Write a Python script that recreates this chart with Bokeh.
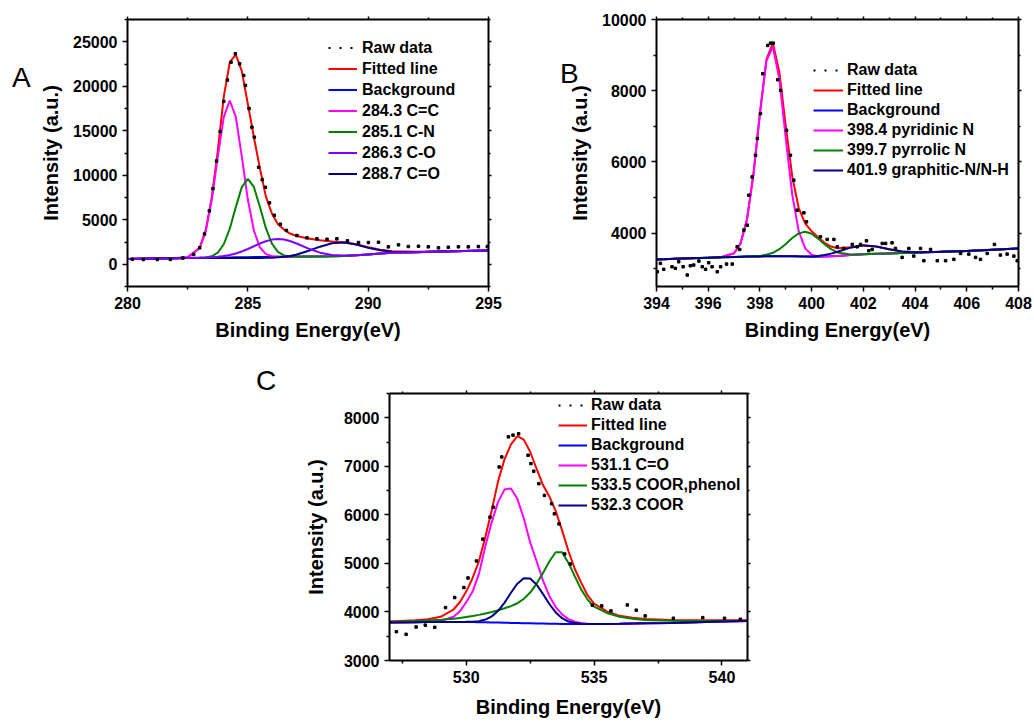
from bokeh.plotting import figure
from bokeh.models import (Range1d, FixedTicker, LinearAxis, Legend, LegendItem,
                          Div, Spacer, CustomJSTickFormatter)
from bokeh.layouts import column, row
from bokeh.embed import file_html
from bokeh.resources import INLINE

FONT = "Liberation Sans"
RED, BLUE, MAGENTA, GREEN, VIOLET, NAVY = "#ff0000", "#0000ff", "#ff00ff", "#008000", "#8000ff", "#000080"

# ---------------- Panel A : C 1s ----------------
xA = [280, 281, 282, 282.5, 283, 283.25, 283.5, 283.75, 284, 284.25, 284.5, 284.75, 285, 285.25,
      285.5, 285.75, 286, 286.25, 286.5, 286.75, 287, 287.5, 288, 288.5, 289, 289.5, 290, 290.5,
      291, 292, 293, 294, 295]
fitA = [600, 640, 690, 790, 1850, 3800, 7450, 12700, 18800, 22700, 23550, 21700, 18000, 14300,
        10800, 7600, 5700, 4500, 3900, 3450, 3200, 2900, 2700, 2560, 2480, 2250, 1900, 1620,
        1460, 1400, 1440, 1490, 1550]
bgA = [600, 640, 680, 700, 720, 730, 740, 750, 760, 770, 780, 790, 800, 810, 815, 820, 830, 835,
       840, 845, 850, 860, 870, 890, 930, 1000, 1100, 1200, 1280, 1360, 1420, 1480, 1550]
cc_A = [600, 640, 682, 776, 1813, 3709, 7210, 12051, 16539, 18400, 16559, 12091, 7270, 3789,
        1908, 1137, 906, 849, 840, 845, 850, 860, 870, 890, 930, 1000, 1100, 1200, 1280, 1360,
        1420, 1480, 1550]
cn_A = [600, 640, 680, 700, 727, 768, 898, 1296, 2247, 4000, 6421, 8666, 9600, 8686, 6456, 4050,
        2317, 1381, 998, 883, 857, 860, 870, 890, 930, 1000, 1100, 1200, 1280, 1360, 1420, 1480,
        1550]
co_A = [600, 640, 680, 702, 730, 752, 786, 838, 919, 1041, 1213, 1439, 1716, 2023, 2325, 2585,
        2768, 2835, 2778, 2610, 2360, 1776, 1303, 1049, 976, 1010, 1100, 1200, 1280, 1360, 1420,
        1480, 1550]
cdo_A = [600, 640, 680, 690, 700, 700, 700, 700, 700, 700, 702, 702, 702, 705, 710, 720, 740, 775,
         830, 920, 1074, 1484, 1974, 2365, 2455, 2214, 1864, 1564, 1415, 1367, 1420, 1480, 1550]
rawA_x = [280.2, 280.66, 281.24, 281.78, 282.3, 282.75, 283.0, 283.2, 283.4, 283.55, 283.7, 283.85,
          284.0, 284.15, 284.3, 284.48, 284.66, 284.83, 284.9, 285.05, 285.17, 285.27, 285.45,
          285.6, 285.73, 285.9, 286.1, 286.35, 286.6, 287.04, 287.46, 287.87, 288.29, 288.70,
          289.14, 289.60, 290.01, 290.43, 290.84, 291.26, 291.67, 292.09, 292.50, 292.92, 293.33,
          293.75, 294.16, 294.58, 294.95]
rawA_y = [560, 530, 530, 540, 700, 1100, 1850, 3400, 6000, 8500, 11600, 14900, 18300, 20700,
          22700, 23650, 22520, 21210, 20090, 17500, 15400, 14275, 10900, 9500, 8650, 6900, 5500,
          4500, 3800, 3225, 2965, 2855, 2810, 2855, 2630, 2440, 2440, 2470, 1955, 2180, 1990,
          2025, 1955, 1845, 1910, 1955, 1955, 1990, 1990]
labelsA = ["Raw data", "Fitted line", "Background", "284.3 C=C", "285.1 C-N", "286.3 C-O", "288.7 C=O"]

# ---------------- Panel B : N 1s ----------------
xB = [394, 395, 396, 396.5, 397, 397.25, 397.5, 397.75, 398, 398.25, 398.5, 398.75, 399, 399.25,
      399.5, 399.75, 400, 400.25, 400.5, 400.75, 401, 401.5, 402, 402.5, 403, 403.5, 404, 405,
      406, 407, 408]
fitB = [3260, 3285, 3310, 3324, 3434, 3706, 4384, 5658, 7372, 8873, 9340, 8529, 7004, 5590, 4704,
        4275, 4051, 3881, 3728, 3623, 3572, 3606, 3656, 3626, 3544, 3483, 3461, 3475, 3500, 3535,
        3570]
bgB = [3260, 3285, 3310, 3320, 3330, 3335, 3340, 3345, 3345, 3350, 3350, 3350, 3350, 3350, 3345,
       3340, 3335, 3335, 3340, 3350, 3360, 3385, 3405, 3420, 3430, 3440, 3450, 3475, 3500, 3535,
       3570]
pyridinic_B = [3260, 3285, 3310, 3324, 3434, 3706, 4383, 5653, 7357, 8832, 9242, 8330, 6659, 5079,
               4055, 3570, 3393, 3347, 3340, 3350, 3360, 3385, 3405, 3420, 3430, 3440, 3450, 3475,
               3500, 3535, 3570]
pyrrolic_B = [3260, 3285, 3310, 3320, 3330, 3335, 3341, 3350, 3360, 3391, 3448, 3549, 3695, 3861,
              3992, 4040, 3982, 3846, 3685, 3549, 3458, 3400, 3406, 3420, 3430, 3440, 3450, 3475,
              3500, 3535, 3570]
graphitic_B = [3260, 3285, 3310, 3320, 3330, 3335, 3340, 3345, 3345, 3350, 3350, 3350, 3350, 3350,
               3347, 3345, 3346, 3358, 3383, 3424, 3474, 3591, 3655, 3626, 3544, 3483, 3461, 3475,
               3500, 3535, 3570]
rawB_x = [394.03, 394.15, 394.28, 394.6, 394.73, 394.86, 395.03, 395.19, 395.31, 395.44, 395.64,
          395.77, 395.9, 396.02, 396.15, 396.35, 396.48, 396.71, 396.93, 397.12, 397.22, 397.38,
          397.51, 397.57, 397.7, 397.83, 397.9, 398.02, 398.11, 398.3, 398.41, 398.51, 398.69,
          398.8, 399.03, 399.18, 399.31, 399.44, 399.7, 399.8, 400.34, 400.6, 400.86, 400.99,
          401.24, 401.57, 401.76, 401.89, 402.12, 402.21, 402.34, 402.73, 402.86, 403.11, 403.24,
          403.5, 403.76, 403.95, 404.21, 404.34, 404.6, 404.86, 405.18, 405.5, 405.76, 406.08,
          406.34, 406.53, 406.79, 407.07, 407.3, 407.56, 407.82, 407.95]
rawB_y = [2914, 3150, 2982, 3055, 3010, 3196, 3055, 2822, 3083, 3102, 3214, 3055, 2982, 3168, 3055,
          2914, 3055, 3130, 3130, 3615, 3540, 4084, 4224, 5065, 5578, 6187, 6655, 7355, 8477, 9271,
          9336, 9336, 8309, 8009, 6887, 6187, 5486, 4644, 4569, 4316, 3896, 3822, 3822, 3615, 3570,
          3682, 3615, 3682, 3783, 3503, 3540, 3710, 3710, 3727, 3570, 3318, 3570, 3354, 3570, 3224,
          3540, 3224, 3224, 3262, 3430, 3410, 3318, 3262, 3430, 3682, 3383, 3410, 3354, 3224]
labelsB = ["Raw data", "Fitted line", "Background", "398.4 pyridinic N", "399.7 pyrrolic N",
           "401.9 graphitic-N/N-H"]

# ---------------- Panel C : O 1s ----------------
xC = [527, 528, 528.5, 529, 529.5, 529.75, 530, 530.25, 530.5, 530.75, 531, 531.25, 531.5, 531.75,
      532, 532.25, 532.5, 532.75, 533, 533.25, 533.5, 533.75, 534, 534.25, 534.5, 534.75, 535,
      535.5, 536, 536.5, 537, 538, 539, 540, 541]
fitC = [3805, 3830, 3850, 3900, 4050, 4200, 4420, 4700, 5050, 5550, 6100, 6700, 7150, 7450, 7620,
        7550, 7300, 6950, 6620, 6380, 6080, 5680, 5250, 4880, 4600, 4340, 4170, 4010, 3920, 3880,
        3855, 3835, 3830, 3830, 3830]
bgC = [3785, 3790, 3795, 3795, 3795, 3795, 3795, 3793, 3790, 3788, 3785, 3782, 3778, 3775, 3772,
       3768, 3765, 3762, 3760, 3757, 3755, 3752, 3750, 3750, 3750, 3750, 3750, 3752, 3755, 3760,
       3765, 3775, 3790, 3802, 3815]
co_C = [3785, 3790, 3797, 3814, 3900, 4011, 4200, 4420, 4790, 5359, 5853, 6273, 6524, 6545, 6330,
        5930, 5437, 5050, 4650, 4330, 4100, 3950, 3850, 3800, 3770, 3758, 3752, 3752, 3755, 3760,
        3765, 3775, 3790, 3802, 3815]
phenol_C = [3800, 3815, 3825, 3840, 3860, 3875, 3895, 3915, 3940, 3970, 4000, 4035, 4075, 4120,
            4180, 4270, 4400, 4580, 4800, 5040, 5230, 5230, 5010, 4730, 4460, 4250, 4110, 3980,
            3900, 3860, 3835, 3820, 3815, 3815, 3815]
coor_C = [3785, 3790, 3795, 3795, 3795, 3795, 3797, 3800, 3811, 3843, 3909, 4024, 4193, 4395, 4583,
          4693, 4688, 4566, 4372, 4164, 3991, 3872, 3803, 3771, 3757, 3752, 3750, 3752, 3755, 3760,
          3765, 3775, 3790, 3802, 3815]
rawC_x = [527.27, 527.65, 528.04, 528.4, 528.77, 529.19, 529.55, 529.91, 530.07, 530.4, 530.65,
          530.93, 531.06, 531.29, 531.39, 531.65, 531.83, 532.05, 532.42, 532.53, 532.64, 532.84,
          533.06, 533.34, 533.45, 533.63, 533.85, 534.07, 534.93, 535.3, 535.66, 536.3, 536.65,
          537.0, 538.1, 539.25, 540.1, 540.72]
rawC_y = [3593, 3539, 3690, 3728, 3683, 4090, 4297, 4503, 4700, 5050, 5500, 5952, 6159, 6986, 7193,
          7607, 7642, 7670, 7228, 7056, 6900, 6643, 6401, 6229, 6022, 5815, 5194, 4987, 4140, 4125,
          4021, 4145, 4036, 3918, 3870, 3883, 3870, 3850]
labelsC = ["Raw data", "Fitted line", "Background", "531.1 C=O", "533.5 COOR,phenol", "532.3 COOR"]

panel_letters = ["A", "B", "C"]

X_LABEL = "Binding Energy(eV)"
Y_LABEL = "Intensity (a.u.)"


def style_main_axis(ax, ticks, minor, label, label_standoff, tick_standoff=5):
    ax.ticker = FixedTicker(ticks=ticks, minor_ticks=minor)
    ax.axis_line_width = 2
    ax.axis_line_color = "black"
    ax.major_tick_line_width = 1.5
    ax.minor_tick_line_width = 1.5
    ax.major_tick_in = 0
    ax.major_tick_out = 5
    ax.minor_tick_in = 0
    ax.minor_tick_out = 3
    ax.major_label_standoff = tick_standoff
    ax.major_label_text_font = FONT
    ax.major_label_text_font_style = "bold"
    ax.major_label_text_font_size = "16px"
    ax.major_label_text_color = "black"
    ax.axis_label = label
    ax.axis_label_standoff = label_standoff
    ax.axis_label_text_font = FONT
    ax.axis_label_text_font_style = "bold"
    ax.axis_label_text_font_size = "20px"
    ax.axis_label_text_color = "black"


def add_mirror(p, ticks, minor, place):
    ax = LinearAxis(ticker=FixedTicker(ticks=ticks, minor_ticks=minor),
                    formatter=CustomJSTickFormatter(code="return ''"))
    ax.axis_line_width = 2
    ax.major_tick_line_width = 1.5
    ax.minor_tick_line_width = 1.5
    ax.major_tick_in = 0
    ax.major_tick_out = 3
    ax.minor_tick_in = 0
    ax.minor_tick_out = 2
    ax.major_label_standoff = 0
    ax.major_label_text_font_size = "1px"
    p.add_layout(ax, place)


def make_panel(xr, yr, xt, xm, yt, ym, w, h, borders, ylab_so, xlab_so, xtick_so=5):
    bl, br, bt, bb = borders
    p = figure(width=w, height=h, x_range=Range1d(*xr), y_range=Range1d(*yr),
               output_backend="svg", toolbar_location=None,
               min_border_left=bl, min_border_right=br, min_border_top=bt, min_border_bottom=bb,
               background_fill_color="white", border_fill_color="white")
    p.xgrid.visible = False
    p.ygrid.visible = False
    p.outline_line_color = None
    style_main_axis(p.xaxis[0], xt, xm, X_LABEL, xlab_so, xtick_so)
    style_main_axis(p.yaxis[0], yt, ym, Y_LABEL, ylab_so)
    add_mirror(p, xt, xm, "above")
    add_mirror(p, yt, ym, "right")
    return p


def add_legend(p, renderers, labels, loc, glyph_w, item_h, standoff):
    items = [LegendItem(label=l, renderers=[r]) for l, r in zip(labels, renderers)]
    lg = Legend(items=items, location=loc, glyph_width=glyph_w, glyph_height=item_h,
                label_height=item_h, spacing=0, padding=0, margin=0, label_standoff=standoff,
                label_text_font=FONT, label_text_font_style="bold", label_text_font_size="16px",
                label_text_color="black", border_line_color=None, background_fill_alpha=0)
    p.add_layout(lg, "center")


def letter_div(text, left, top):
    return Div(text=text, width=30, height=32,
               styles={"position": "absolute", "left": f"{left}px", "top": f"{top}px",
                       "font-family": FONT, "font-size": "28px", "line-height": "28px",
                       "color": "black", "margin": "0", "padding": "0", "z-index": "10"})


def draw_curves(p, x, series, colors, rx, ry):
    # one-point line: draws nothing in the plot, only gives the dotted legend glyph
    dummy = p.line(x=rx[:1], y=ry[:1], line_color="black", line_width=2, line_dash="2 9")
    rends = [dummy]
    for ys, c in zip(series, colors):
        rends.append(p.line(x, ys, line_color=c, line_width=2))
    p.scatter(rx, ry, marker="square", size=2.5, color="black")
    return rends


# Panel A  (canvas at page 0,0)
pA = make_panel((280, 295), (-2500, 27500), [280, 285, 290, 295], [282.5, 287.5, 292.5],
                [0, 5000, 10000, 15000, 20000, 25000],
                [-2500, 2500, 7500, 12500, 17500, 22500, 27500],
                520, 360, (127, 32, 19, 74), 8, 7)
rA = draw_curves(pA, xA, [fitA, bgA, cc_A, cn_A, cdo_A, co_A],
                 [RED, BLUE, MAGENTA, GREEN, NAVY, VIOLET], rawA_x, rawA_y)
add_legend(pA, [rA[0], rA[1], rA[2], rA[3], rA[4], rA[6], rA[5]], labelsA, (201, 102), 29, 21, 5)

# Panel B  (canvas at page 520,0)
pB = make_panel((394, 408), (2500, 10000), [394, 396, 398, 400, 402, 404, 406, 408],
                [395, 397, 399, 401, 403, 405, 407],
                [4000, 6000, 8000, 10000], [3000, 5000, 7000, 9000],
                513, 360, (136, 15, 19, 74), 8, 7)
rB = draw_curves(pB, xB, [fitB, bgB, pyridinic_B, pyrrolic_B, graphitic_B],
                 [RED, BLUE, MAGENTA, GREEN, NAVY], rawB_x, rawB_y)
add_legend(pB, rB, labelsB, (157, 106), 30, 20, 4)

# Panel C  (canvas at page 250,360)
pC = make_panel((527, 541), (3000, 8500), [530, 535, 540], [527.5, 532.5, 537.5],
                [3000, 4000, 5000, 6000, 7000, 8000],
                [3500, 4500, 5500, 6500, 7500, 8500],
                527, 363, (139, 30, 33, 63), 14, 10, 5)
rC = draw_curves(pC, xC, [fitC, bgC, co_C, phenol_C, coor_C],
                 [RED, BLUE, MAGENTA, GREEN, NAVY], rawC_x, rawC_y)
add_legend(pC, rC, labelsC, (169, 145), 29, 20, 4)

dA = letter_div(panel_letters[0], 12, 64)
dB = letter_div(panel_letters[1], 560, 60)
dC = letter_div(panel_letters[2], 256, 367)

layout = column(row(pA, pB), row(Spacer(width=250, height=363), pC), dA, dB, dC)

open("out.html", "w").write(file_html(layout, INLINE))
